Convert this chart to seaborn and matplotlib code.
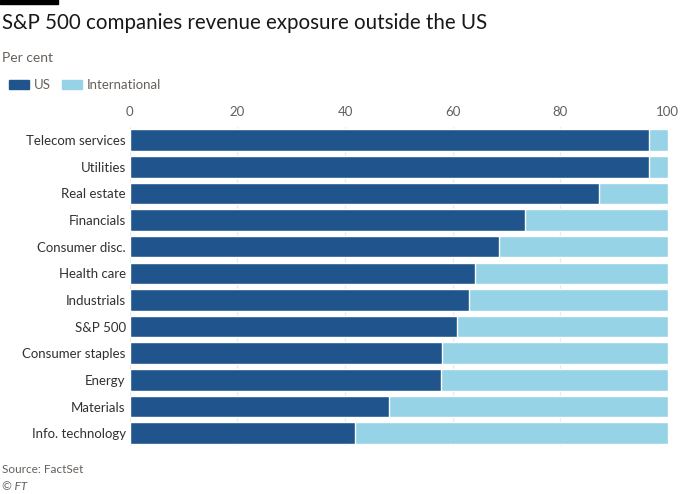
import numpy as np
import pandas as pd
import matplotlib
matplotlib.use("Agg")
import matplotlib.pyplot as plt
from matplotlib.patches import Patch, Rectangle
import seaborn as sns

# Data (per cent of revenue)
sectors = ["Telecom services", "Utilities", "Real estate", "Financials", "Consumer disc.",
           "Health care", "Industrials", "S&P 500", "Consumer staples", "Energy",
           "Materials", "Info. technology"]
us = [96.6, 96.5, 87.2, 73.5, 68.6, 64.2, 63.0, 60.8, 58.1, 57.9, 48.1, 41.9]
intl = [3.4, 3.5, 12.8, 26.5, 31.4, 35.8, 37.0, 39.2, 41.9, 42.1, 51.9, 58.1]
x_ticks = [0, 20, 40, 60, 80, 100]

df = pd.DataFrame({"sector": sectors, "US": us, "International": intl})
df["total"] = df["US"] + df["International"]

c_us = "#1f558c"
c_intl = "#96d3e6"
c_text = "#33302e"
c_tick = "#66605c"

sns.set_theme(style="white")
plt.rcParams["font.family"] = ["Lato", "DejaVu Sans"]

fig = plt.figure(figsize=(6.8, 4.94), dpi=100)
ax = fig.add_axes([0.191, 0.0962, 0.791, 0.6471])

# light blue = full bar (US + international), dark blue on top = US share
sns.barplot(data=df, x="total", y="sector", color=c_intl, width=0.81,
            saturation=1, ax=ax, zorder=2)
sns.barplot(data=df, x="US", y="sector", color=c_us, width=0.81,
            saturation=1, ax=ax, zorder=3)

ax.set_xlim(0, 100)
ax.set_xticks(x_ticks)
ax.xaxis.tick_top()
ax.tick_params(axis="x", length=0, pad=6, labelsize=9.5, labelcolor=c_tick)
ax.tick_params(axis="y", length=0, pad=3, labelsize=9.5, labelcolor=c_text)
ax.set_xlabel("")
ax.set_ylabel("")
ax.grid(axis="x", color="#e3ecf1", linewidth=0.9, zorder=0)
ax.set_axisbelow(True)
for s in ax.spines.values():
    s.set_visible(False)

# header and footer
fig.patches.append(Rectangle((0, 1 - 4 / 494), 58 / 680, 4 / 494,
                             transform=fig.transFigure, color="black"))
fig.text(0.003, 0.953, "S&P 500 companies revenue exposure outside the US",
         fontsize=14.8, color="#1a1817", va="center")
fig.text(0.003, 0.883, "Per cent", fontsize=10, color=c_tick, va="center")

handles = [Patch(color=c_us, label="US"), Patch(color=c_intl, label="International")]
fig.legend(handles=handles, loc="center left", bbox_to_anchor=(-0.004, 0.827),
           ncol=2, frameon=False, fontsize=9.5, handlelength=1.5, handleheight=0.7,
           handletextpad=0.35, columnspacing=0.9, labelcolor=c_tick)

fig.text(0.003, 0.049, "Source: FactSet", fontsize=8.5, color=c_tick, va="center")
fig.text(0.003, 0.016, "© FT", fontsize=8.5, color=c_tick, va="center", style="italic")

fig.savefig("out.png", dpi=100)
